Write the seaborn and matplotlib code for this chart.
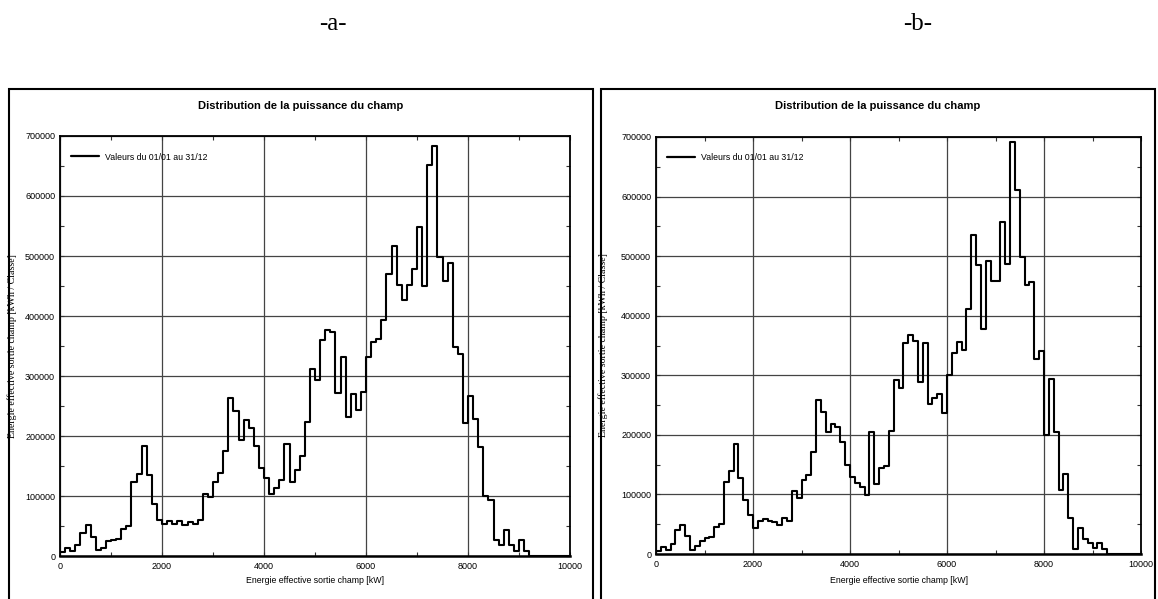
import numpy as np
import pandas as pd
import matplotlib
matplotlib.use("Agg")
import matplotlib.pyplot as plt
import seaborn as sns
from matplotlib.patches import Rectangle
from matplotlib.ticker import MultipleLocator

# ---------------- data ----------------
panel_tags = ["-a-", "-b-"]
chart_title = "Distribution de la puissance du champ"
x_label = "Energie effective sortie champ [kW]"
y_label = "Energie effective sortie champ [kWh / Classe]"
legend_label = "Valeurs du 01/01 au 31/12"
bin_width = 100  # kW per class

# energy per 100 kW class, panel a (classes start at 0 kW)
values_a = [7000, 13000, 9000, 18000, 39000, 52000, 32000, 9500, 14000, 25500,
            27000, 29000, 45500, 50500, 123000, 137000, 183000, 135000, 87000, 60000,
            54000, 58000, 53000, 58000, 52000, 56000, 54000, 60000, 103000, 98000,
            124000, 139000, 175000, 264000, 242000, 194000, 226000, 214000, 184000, 147000,
            130000, 103000, 114000, 127000, 186000, 123000, 143000, 166000, 223000, 312000,
            293000, 360000, 377000, 374000, 272000, 332000, 231000, 270000, 244000, 273000,
            332000, 356000, 361000, 393000, 470000, 517000, 452000, 426000, 452000, 479000,
            549000, 450000, 652000, 683000, 498000, 459000, 488000, 348000, 337000, 222000,
            266000, 228000, 181000, 100000, 93000, 27000, 18000, 44000, 18000, 9000,
            27000, 9000]

# energy per 100 kW class, panel b
values_b = [5600, 12000, 6700, 17000, 40000, 48000, 31000, 6700, 14000, 22000,
            27500, 29000, 45000, 51000, 121000, 139000, 185000, 127000, 90000, 65000,
            44000, 56000, 58000, 56000, 54000, 48000, 60000, 55000, 105000, 94000,
            124000, 133000, 172000, 258000, 239000, 204000, 218000, 213000, 188000, 150000,
            130000, 120000, 112000, 99000, 204000, 118000, 144000, 147000, 207000, 292000,
            278000, 354000, 367000, 358000, 288000, 355000, 252000, 262000, 268000, 237000,
            300000, 338000, 356000, 342000, 411000, 536000, 485000, 377000, 492000, 458000,
            458000, 558000, 486000, 691000, 611000, 499000, 452000, 456000, 328000, 341000,
            200000, 293000, 205000, 107000, 134000, 60000, 8400, 43000, 26000, 18000,
            9500, 18000, 8400]

x_ticks = [0, 2000, 4000, 6000, 8000, 10000]
y_ticks = [0, 100000, 200000, 300000, 400000, 500000, 600000, 700000]

# ---------------- style ----------------
sns.set_style("ticks")
plt.rcParams["font.family"] = ["Liberation Sans", "DejaVu Sans"]
plt.rcParams["text.color"] = "black"
plt.rcParams["axes.labelcolor"] = "black"
plt.rcParams["xtick.color"] = "black"
plt.rcParams["ytick.color"] = "black"

W, H = 1158, 599
fig = plt.figure(figsize=(W / 100, H / 100), dpi=100)

# pixel layouts: (panel box left, right), axes (left, right, top, bottom), tag x, title x, ylabel x
layouts = [
    dict(box=(9, 593), ax=(60, 570, 136, 556), tag=333, title=301, ylab=17.5),
    dict(box=(601, 1155), ax=(656, 1141, 137, 554), tag=918, title=878, ylab=608),
]

for tag, values, lay in zip(panel_tags, [values_a, values_b], layouts):
    bx0, bx1 = lay["box"]
    fig.patches.append(Rectangle((bx0 / W, -0.02), (bx1 - bx0) / W, 0.02 + (H - 89) / H,
                                 transform=fig.transFigure, fill=False,
                                 edgecolor="black", linewidth=1.5))
    fig.text(lay["tag"] / W, 1 - 30 / H, tag, ha="center", va="baseline",
             family=["Liberation Serif", "DejaVu Serif"], fontsize=18)
    fig.text(lay["title"] / W, 1 - 106 / H, chart_title, ha="center", va="center",
             fontsize=8.0, fontweight="bold")

    l, r, t, b = lay["ax"]
    ax = fig.add_axes([l / W, (H - b) / H, (r - l) / W, (b - t) / H])

    edges = [float(e) for e in range(0, 10000 + bin_width, bin_width)]
    centers = np.arange(len(values)) * bin_width + bin_width / 2
    df = pd.DataFrame({"puissance": centers, "energie": values})
    sns.histplot(data=df, x="puissance", weights="energie", bins=edges,
                 element="step", fill=False, color="black", linewidth=1.5,
                 ax=ax, label=legend_label)

    ax.set_xlim(0, 10000)
    ax.set_ylim(0, 700000)
    ax.set_xticks(x_ticks)
    ax.set_xticklabels([str(v) for v in x_ticks])
    ax.set_yticks(y_ticks)
    ax.set_yticklabels([str(v) for v in y_ticks])
    ax.xaxis.set_minor_locator(MultipleLocator(1000))
    ax.yaxis.set_minor_locator(MultipleLocator(50000))
    ax.tick_params(which="both", direction="in", top=True, right=True,
                   labelsize=6.5, color="#333333", width=0.8)
    ax.tick_params(which="major", length=3)
    ax.tick_params(which="minor", length=3)
    ax.tick_params(axis="y", pad=3.5)
    ax.tick_params(axis="x", pad=4.3)
    ax.grid(True, which="major", color="#444444", linewidth=0.9)
    ax.set_axisbelow(True)
    for side, sp in ax.spines.items():
        sp.set_visible(True)
        sp.set_color("black")
        sp.set_linewidth(1.3)
    ax.spines["bottom"].set_linewidth(1.8)

    ax.set_xlabel(x_label, fontsize=6.3)
    ax.xaxis.set_label_coords(0.5, (b - 576) / (b - t))
    ax.set_ylabel(y_label, fontsize=7.1, family=["Liberation Serif", "DejaVu Serif"])
    ax.yaxis.set_label_coords((lay["ylab"] - l) / (r - l), 0.5)

    leg = ax.legend(loc="upper left", bbox_to_anchor=(11 / (r - l), 1 - 16.5 / (b - t)),
                    frameon=False, fontsize=6.3, borderaxespad=0, borderpad=0,
                    handlelength=3.2, handletextpad=0.7)
    for h in leg.get_lines():
        h.set_linewidth(1.6)

fig.savefig("out.png", dpi=100)
